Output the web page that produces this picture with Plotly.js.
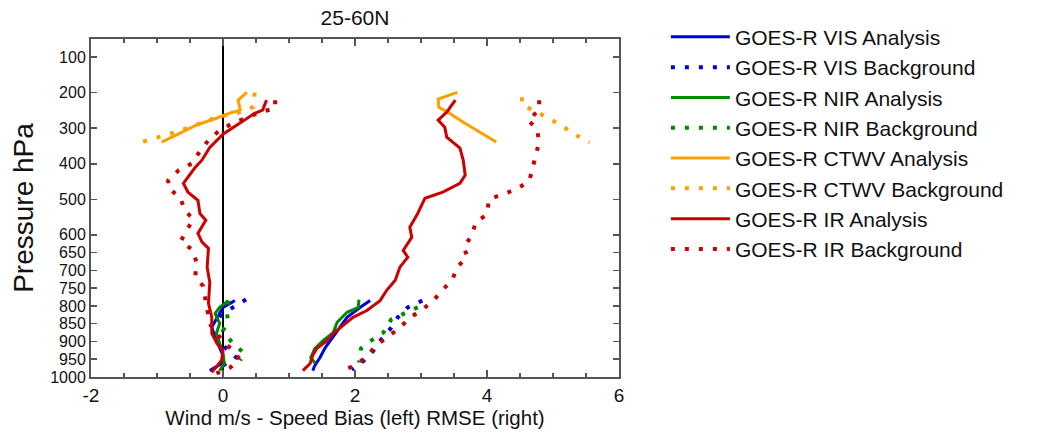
<!DOCTYPE html>
<html><head><meta charset="utf-8">
<script src="https://cdn.plot.ly/plotly-3.0.1.min.js"></script>
<style>html,body{margin:0;padding:0;background:#fff}#chart{width:1038px;height:440px}</style>
</head><body><div id="chart"></div>
<script>
// Pressure tick labels (hPa)
const pressureTicks = [100,200,300,400,500,600,650,700,750,800,850,900,950,1000];
const xTicks = [-2,0,2,4,6];

// GOES-R VIS
const visAnaBiasP = [785,804,827,860,889,917,939,962,982];
const visAnaBias  = [0.18,0.0,-0.07,-0.17,-0.12,-0.05,0.0,-0.02,-0.2];
const visAnaRmseP = [785,804,832,860,889,917,945,968,982];
const visAnaRmse  = [2.23,2.08,1.88,1.77,1.65,1.55,1.47,1.39,1.36];
const visBkgBiasP = [782,804,830,861,890,920,945,965,982];
const visBkgBias  = [0.35,0.15,-0.05,-0.2,-0.1,0.05,0.2,0.02,-0.08];
const visBkgRmseP = [785,804,832,866,894,928,956,979];
const visBkgRmse  = [3.02,2.8,2.65,2.53,2.4,2.27,2.12,1.95];

// GOES-R NIR
const nirAnaBiasP = [785,804,821,849,877,906,934,962,982];
const nirAnaBias  = [0.08,-0.05,-0.12,-0.05,-0.1,-0.05,0.0,0.02,-0.05];
const nirAnaRmseP = [782,804,818,846,875,897,920,945,962];
const nirAnaRmse  = [2.06,2.05,1.88,1.73,1.67,1.52,1.39,1.33,1.4];
const nirBkgBiasP = [785,815,840,870,906,934,953];
const nirBkgBias  = [0.08,0.05,0.08,0.0,0.15,0.33,0.26];
const nirBkgRmseP = [804,821,838,875,897,920,959];
const nirBkgRmse  = [2.95,2.76,2.55,2.43,2.25,2.09,2.06];

// GOES-R CTWV
const ctwvAnaBiasP = [199,221,249,258,272,291,314,339];
const ctwvAnaBias  = [0.36,0.23,0.26,0.1,-0.1,-0.4,-0.65,-0.93];
const ctwvAnaRmseP = [199,218,241,255,283,311,339];
const ctwvAnaRmse  = [3.55,3.26,3.27,3.41,3.64,3.89,4.14];
const ctwvBkgBiasP = [200,240,255,270,290,310,340];
const ctwvBkgBias  = [0.48,0.46,0.25,-0.1,-0.4,-0.7,-1.25];
const ctwvBkgRmseP = [213,235,252,272,291,314,340];
const ctwvBkgRmse  = [4.53,4.53,4.73,4.92,5.12,5.3,5.55];

// GOES-R IR
const irAnaBiasP = [221,249,258,317,354,390,410,455,480,503,540,559,596,620,638,691,734,776,793,832,877,906,925,953,976,987];
const irAnaBias  = [0.66,0.6,0.48,0.0,-0.2,-0.32,-0.42,-0.6,-0.53,-0.38,-0.35,-0.26,-0.38,-0.32,-0.22,-0.24,-0.2,-0.21,-0.22,-0.17,-0.17,-0.09,0.0,-0.02,-0.12,-0.17];
const irAnaRmseP = [221,255,277,297,325,356,390,432,455,480,497,540,579,607,644,663,691,728,756,785,813,832,855,877,897,920,939,962,982];
const irAnaRmse  = [3.52,3.39,3.26,3.36,3.39,3.59,3.64,3.67,3.59,3.33,3.06,2.95,2.83,2.86,2.73,2.8,2.68,2.61,2.48,2.38,2.18,1.97,1.82,1.67,1.58,1.42,1.36,1.32,1.21];
const irBkgBiasP = [221,244,255,286,306,331,365,399,418,447,469,494,531,556,587,618,641,677,717,745,800,850,900,925,950,975,990];
const irBkgBias  = [0.79,0.79,0.56,0.15,-0.05,-0.21,-0.35,-0.47,-0.67,-0.83,-0.83,-0.65,-0.58,-0.45,-0.55,-0.64,-0.47,-0.4,-0.42,-0.3,-0.25,-0.2,0.0,0.15,0.25,0.1,-0.1];
const irBkgRmseP = [221,249,277,303,339,376,413,449,472,486,500,542,565,601,635,661,691,728,756,787,810,835,863,889,911,942,968,982];
const irBkgRmse  = [4.79,4.79,4.62,4.76,4.79,4.74,4.7,4.64,4.44,4.24,4.03,4.0,3.83,3.77,3.65,3.7,3.55,3.47,3.32,3.18,3.02,2.82,2.67,2.48,2.32,2.18,2.0,1.79];

const BLUE = '#0000dd', GREEN = '#008a00', ORANGE = '#ffa000', RED = '#cc0000';
const DOT = '4px,10px';

function mk(name, color, dotted, bP, b, rP, r) {
  return {
    type: 'scatter', mode: 'lines', name: name,
    x: b.concat([null], r), y: bP.concat([null], rP),
    connectgaps: false,
    line: {color: color, width: dotted ? 4 : 3, dash: dotted ? DOT : 'solid'},
    hoverinfo: 'x+y+name'
  };
}

const traces = [
  mk('GOES-R VIS Analysis', BLUE, false, visAnaBiasP, visAnaBias, visAnaRmseP, visAnaRmse),
  mk('GOES-R VIS Background', BLUE, true, visBkgBiasP, visBkgBias, visBkgRmseP, visBkgRmse),
  mk('GOES-R NIR Analysis', GREEN, false, nirAnaBiasP, nirAnaBias, nirAnaRmseP, nirAnaRmse),
  mk('GOES-R NIR Background', GREEN, true, nirBkgBiasP, nirBkgBias, nirBkgRmseP, nirBkgRmse),
  mk('GOES-R CTWV Analysis', ORANGE, false, ctwvAnaBiasP, ctwvAnaBias, ctwvAnaRmseP, ctwvAnaRmse),
  mk('GOES-R CTWV Background', ORANGE, true, ctwvBkgBiasP, ctwvBkgBias, ctwvBkgRmseP, ctwvBkgRmse),
  mk('GOES-R IR Analysis', RED, false, irAnaBiasP, irAnaBias, irAnaRmseP, irAnaRmse),
  mk('GOES-R IR Background', RED, true, irBkgBiasP, irBkgBias, irBkgRmseP, irBkgRmse)
];

const FONT = '"Liberation Sans", Arial, Helvetica, sans-serif';
const layout = {
  width: 1038, height: 440,
  paper_bgcolor: '#fff', plot_bgcolor: '#fff',
  font: {family: FONT, color: '#111'},
  margin: {l: 91, r: 419, t: 39, b: 63, pad: 0},
  title: {text: '25-60N', font: {size: 21, color: '#111'}, x: 0.5, xanchor: 'center', xref: 'paper', y: 0.959, yref: 'container', yanchor: 'middle'},
  xaxis: {
    range: [-2, 6], tickvals: xTicks, ticktext: xTicks.map(String),
    ticks: 'inside', ticklen: 7, tickwidth: 2, tickcolor: '#555',
    minor: {dtick: 0.5, ticks: 'inside', ticklen: 4, tickwidth: 1.5, tickcolor: '#555', showgrid: false},
    showline: true, linecolor: '#555', linewidth: 2, mirror: 'ticks',
    showgrid: false, zeroline: true, zerolinecolor: '#000', zerolinewidth: 2,
    tickfont: {size: 19, color: '#111'},
    title: {text: 'Wind m/s - Speed Bias (left) RMSE (right)', font: {size: 20.5, color: '#111'}, standoff: 6}
  },
  yaxis: {
    range: [1000, 49], tickvals: pressureTicks, ticktext: pressureTicks.map(String),
    ticks: 'inside', ticklen: 6, tickwidth: 1.5, tickcolor: '#555',
    showline: true, linecolor: '#555', linewidth: 2, mirror: 'ticks',
    showgrid: false, zeroline: false,
    tickfont: {size: 16, color: '#111'},
    title: {text: 'Pressure hPa', font: {size: 28, color: '#111'}, standoff: 8}
  },
  legend: {
    xref: 'container', yref: 'container', x: 0.6415, y: 0.962, xanchor: 'left', yanchor: 'top',
    font: {size: 21, color: '#111'}, bgcolor: 'rgba(0,0,0,0)', borderwidth: 0,
    itemwidth: 59, tracegroupgap: 0, maxheight: 420
  },
  showlegend: true
};

Plotly.newPlot('chart', traces, layout, {displayModeBar: false, staticPlot: true});
</script>
</body></html>
